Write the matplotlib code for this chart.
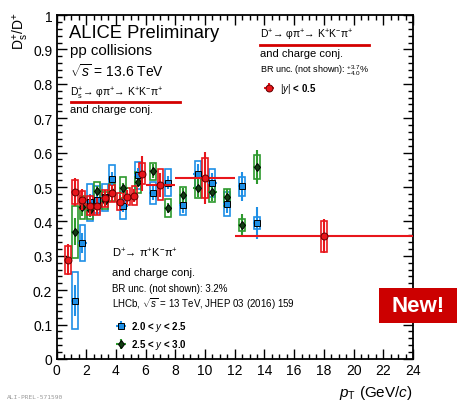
import matplotlib
matplotlib.use('Agg')
import matplotlib.pyplot as plt
from matplotlib.patches import Rectangle
from matplotlib.lines import Line2D
from matplotlib.ticker import MultipleLocator

plt.rcParams['font.family'] = ['Liberation Sans', 'DejaVu Sans']
plt.rcParams['mathtext.fontset'] = 'custom'
plt.rcParams['mathtext.rm'] = 'Liberation Sans'
plt.rcParams['mathtext.it'] = 'Liberation Sans:italic'
plt.rcParams['mathtext.bf'] = 'Liberation Sans:bold'

# ── Data ─────────────────────────────────────────────────────────────
# ALICE pp 13.6 TeV, |y| < 0.5
pt_alice    = [0.75, 1.25, 1.75, 2.25, 2.75, 3.25, 3.75, 4.25, 4.75, 5.25, 5.75, 7.0, 10.0, 18.0]
ptlo_alice  = [0.5, 1.0, 1.5, 2.0, 2.5, 3.0, 3.5, 4.0, 4.5, 5.0, 5.5, 6.0, 8.0, 12.0]
pthi_alice  = [1.0, 1.5, 2.0, 2.5, 3.0, 3.5, 4.0, 4.5, 5.0, 5.5, 6.0, 8.0, 12.0, 24.0]
r_alice     = [0.288, 0.485, 0.463, 0.446, 0.444, 0.467, 0.482, 0.457, 0.472, 0.475, 0.539, 0.507, 0.527, 0.357]
stat_alice  = [0.045, 0.040, 0.030, 0.030, 0.025, 0.025, 0.025, 0.020, 0.020, 0.020, 0.050, 0.035, 0.075, 0.050]
syst_alice  = [0.040, 0.034, 0.026, 0.028, 0.025, 0.025, 0.025, 0.025, 0.025, 0.028, 0.030, 0.044, 0.058, 0.045]

# LHCb pp 13 TeV
pt_lhcb     = [1.25, 1.75, 2.25, 2.75, 3.25, 3.75, 4.5, 5.5, 6.5, 7.5, 8.5, 9.5, 10.5, 11.5, 12.5, 13.5]
r_lhcb_a    = [0.170, 0.337, 0.455, 0.463, 0.470, 0.524, 0.446, 0.534, 0.483, 0.513, 0.448, 0.538, 0.511, 0.450, 0.502, 0.396]
stat_lhcb_a = [0.045, 0.030, 0.025, 0.020, 0.020, 0.020, 0.020, 0.020, 0.020, 0.020, 0.025, 0.030, 0.030, 0.025, 0.042, 0.046]
syst_lhcb_a = [0.083, 0.052, 0.055, 0.040, 0.040, 0.040, 0.040, 0.040, 0.032, 0.040, 0.030, 0.039, 0.040, 0.035, 0.027, 0.017]
r_lhcb_b    = [0.370, 0.441, 0.433, 0.489, 0.460, 0.485, 0.498, 0.514, 0.546, 0.439, 0.476, 0.497, 0.485, 0.470, 0.390, 0.558]
stat_lhcb_b = [0.040, 0.025, 0.020, 0.015, 0.015, 0.015, 0.015, 0.015, 0.020, 0.015, 0.020, 0.025, 0.025, 0.024, 0.032, 0.050]
syst_lhcb_b = [0.075, 0.034, 0.025, 0.025, 0.025, 0.025, 0.030, 0.030, 0.025, 0.025, 0.025, 0.030, 0.030, 0.024, 0.017, 0.034]

RED   = '#e8161b'
BLUE  = '#1e8fe6'
GREEN = '#2e992e'
BOXW  = 0.2

W, H = 457, 402
def fx(px): return px / W
def fy(py): return 1 - py / H

fig = plt.figure(figsize=(W / 100, H / 100), dpi=100, facecolor='white')
ax = fig.add_axes([fx(56.5), fy(360), 356.5 / W, 344 / H])

def syst_boxes(x, y, s, col):
    for xi, yi, si in zip(x, y, s):
        ax.add_patch(Rectangle((xi - BOXW, yi - si), 2 * BOXW, 2 * si,
                               facecolor='none', edgecolor=col, lw=1.2, zorder=2))

syst_boxes(pt_lhcb, r_lhcb_a, syst_lhcb_a, BLUE)
syst_boxes(pt_lhcb, r_lhcb_b, syst_lhcb_b, GREEN)
syst_boxes(pt_alice, r_alice, syst_alice, RED)

h_b = ax.errorbar(pt_lhcb, r_lhcb_a, xerr=0.28, yerr=stat_lhcb_a, fmt='s', ms=4.5,
                  mfc=BLUE, mec='black', mew=0.7, ecolor=BLUE, elinewidth=1.5,
                  capsize=0, zorder=3)
h_g = ax.errorbar(pt_lhcb, r_lhcb_b, xerr=0.28, yerr=stat_lhcb_b, fmt='d', ms=4.5,
                  mfc='#123d12', mec='black', mew=0.7, ecolor=GREEN, elinewidth=1.5,
                  capsize=0, zorder=3)
xerr_alice = [[p - lo for p, lo in zip(pt_alice, ptlo_alice)],
              [hi - p for p, hi in zip(pt_alice, pthi_alice)]]
h_r = ax.errorbar(pt_alice, r_alice, xerr=xerr_alice, yerr=stat_alice, fmt='o', ms=5,
                  mfc=RED, mec='#600000', mew=0.7, ecolor=RED, elinewidth=1.5,
                  capsize=0, zorder=4)

ax.set_xlim(0, 24)
ax.set_ylim(0, 1)
ax.xaxis.set_major_locator(MultipleLocator(2))
ax.xaxis.set_minor_locator(MultipleLocator(0.5))
ax.yaxis.set_major_locator(MultipleLocator(0.1))
ax.yaxis.set_minor_locator(MultipleLocator(0.02))
ax.tick_params(which='both', direction='in', top=True, right=True, labelsize=10,
               width=1.0, pad=3)
ax.tick_params(which='major', length=7)
ax.tick_params(which='minor', length=3.5)
ax.set_yticks([0, 0.1, 0.2, 0.3, 0.4, 0.5, 0.6, 0.7, 0.8, 0.9, 1.0])
ax.set_yticklabels(['0', '0.1', '0.2', '0.3', '0.4', '0.5', '0.6', '0.7', '0.8', '0.9', '1'])
for sp in ax.spines.values():
    sp.set_linewidth(1.3)

# ── Legends ──────────────────────────────────────────────────────────
leg1 = ax.legend([h_r], [r'$|y|$ < 0.5'], loc='upper left',
                 bbox_to_anchor=(fx(262), fy(82)), bbox_transform=fig.transFigure,
                 frameon=False, handlelength=1.5, handletextpad=0.3,
                 borderpad=0, borderaxespad=0, prop={'weight': 'bold', 'size': 7})
ax.add_artist(leg1)
ax.legend([h_b, h_g], [r'2.0 < $y$ < 2.5', r'2.5 < $y$ < 3.0'], loc='upper left',
          bbox_to_anchor=(fx(114), fy(320)), bbox_transform=fig.transFigure,
          frameon=False, handlelength=1.4, handletextpad=0.3, labelspacing=0.45,
          borderpad=0, borderaxespad=0, prop={'weight': 'bold', 'size': 7})

# ── Text ─────────────────────────────────────────────────────────────
fig.text(fx(69), fy(38), 'ALICE Preliminary', fontsize=13.2, va='baseline')
fig.text(fx(70), fy(55), 'pp collisions', fontsize=10.8, va='baseline')
fig.text(fx(70), fy(77), r'$\sqrt{s}$ = 13.6 TeV', fontsize=10, va='baseline')
fig.text(fx(70), fy(97), r'D$_{\rm s}^{+}$→ φπ$^{+}$→ K$^{+}$K$^{-}$π$^{+}$',
         fontsize=7.5, va='baseline')
fig.add_artist(Line2D([fx(70.5), fx(180)], [fy(103), fy(103)], color='#d40000', lw=2))
fig.text(fx(70), fy(113), 'and charge conj.', fontsize=8, va='baseline')

fig.text(fx(260), fy(39), r'D$^{+}$→ φπ$^{+}$→ K$^{+}$K$^{-}$π$^{+}$',
         fontsize=7.5, va='baseline')
fig.add_artist(Line2D([fx(260), fx(369)], [fy(46), fy(46)], color='#d40000', lw=2))
fig.text(fx(260), fy(57), 'and charge conj.', fontsize=8, va='baseline')
fig.text(fx(260), fy(74), r'BR unc. (not shown): $^{+3.7}_{-4.0}$%', fontsize=6.5,
         va='baseline')

fig.text(fx(112), fy(258), r'D$^{+}$→ π$^{+}$K$^{-}$π$^{+}$', fontsize=8, va='baseline')
fig.text(fx(112), fy(276), 'and charge conj.', fontsize=8, va='baseline')
fig.text(fx(112), fy(292.5), 'BR unc. (not shown): 3.2%', fontsize=7, va='baseline')
fig.text(fx(112), fy(308), r'LHCb, $\sqrt{s}$ = 13 TeV, JHEP 03 (2016) 159', fontsize=7,
         va='baseline')

fig.text(fx(21), fy(12), r'D$_{\rm s}^{+}$/D$^{+}$', fontsize=10, rotation=90,
         ha='center', va='top')
fig.text(fx(413), fy(397), r'$p_{\rm T}$ (GeV/$c$)', fontsize=11, ha='right',
         va='baseline')

fig.add_artist(Rectangle((fx(379), fy(324)), (W - 379) / W, 35 / H,
                         transform=fig.transFigure, facecolor='#cc0000',
                         edgecolor='none'))
fig.text(fx(418), fy(307), 'New!', fontsize=16, fontweight='bold', color='white',
         ha='center', va='center')
fig.text(fx(7), fy(399), 'ALI-PREL-571590', fontsize=4.5, color='#999999',
         family='DejaVu Sans Mono', va='baseline')

fig.savefig('out.png', dpi=100, facecolor='white')
